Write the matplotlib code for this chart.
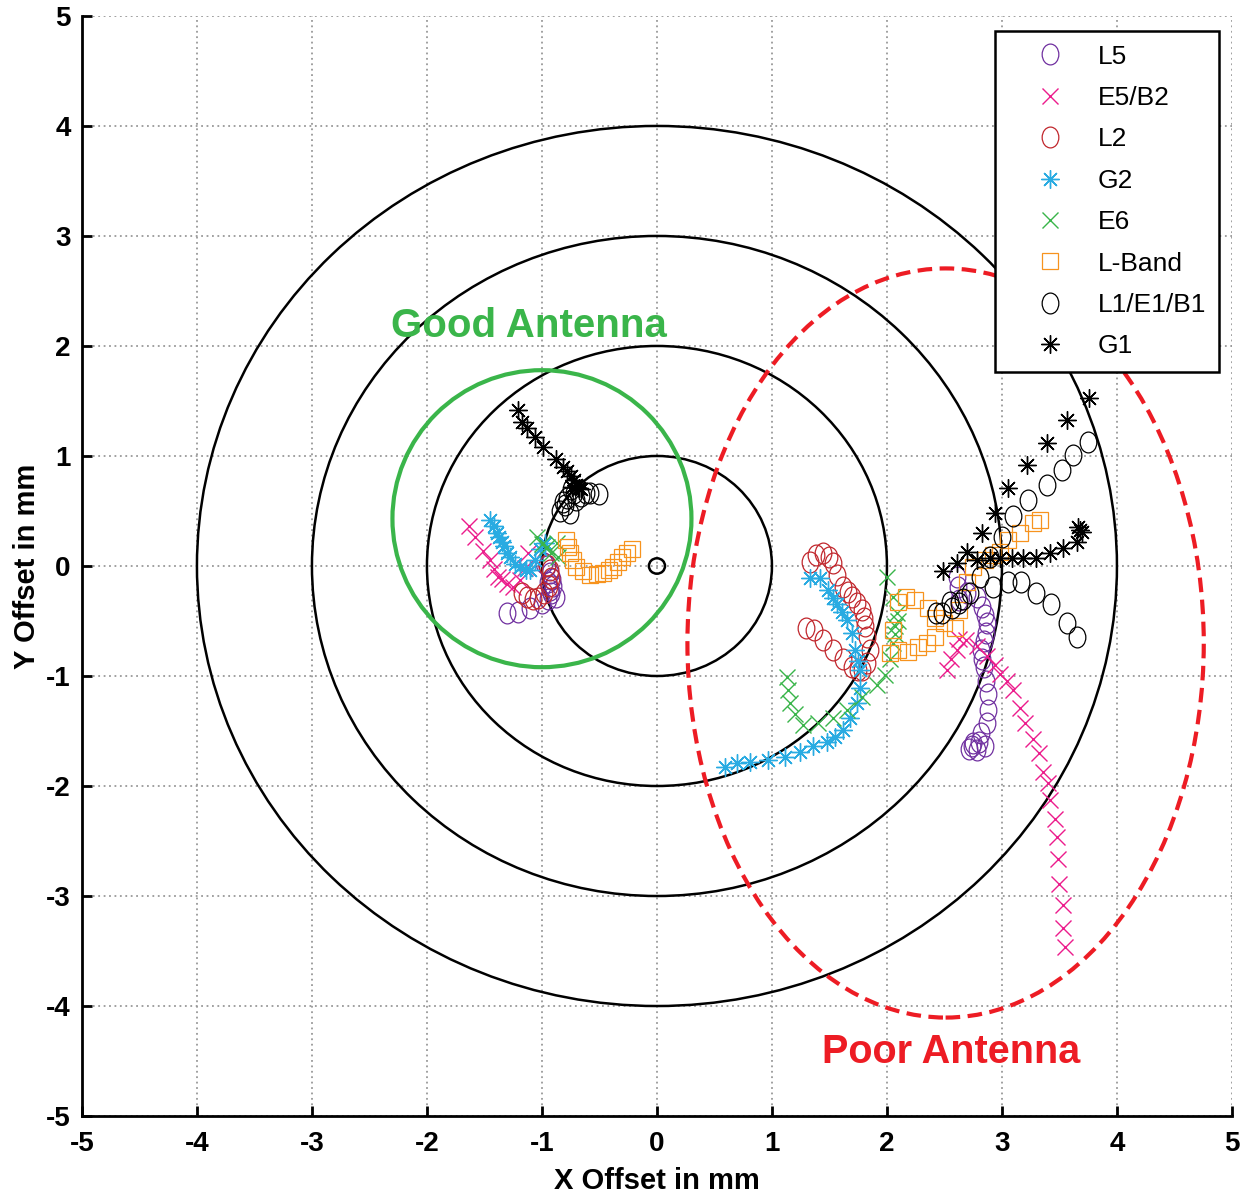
import numpy as np
import matplotlib
matplotlib.use('Agg')
import matplotlib.pyplot as plt
from matplotlib.patches import Circle, Ellipse
from matplotlib.path import Path

plt.rcParams['axes.unicode_minus'] = False

# Dados (offset do centro de fase, mm)
L5_x = [-1.30, -1.21, -1.10, -1.00, -0.95, -0.92, -0.90, -0.91, -0.93, -0.96, -0.98, -0.93, -0.88, -0.95,
        2.61, 2.62, 2.63, 2.70, 2.78, 2.83, 2.85, 2.87, 2.86, 2.84, 2.82, 2.83, 2.84, 2.86, 2.88, 2.88,
        2.87, 2.82, 2.75, 2.71, 2.78, 2.85, 2.74, 2.80]
L5_y = [-0.43, -0.42, -0.38, -0.34, -0.30, -0.25, -0.18, -0.12, -0.06, 0.00, 0.03, -0.22, -0.28, -0.15,
        -0.10, -0.19, -0.31, -0.25, -0.28, -0.37, -0.45, -0.52, -0.61, -0.68, -0.76, -0.85, -0.92, -1.05,
        -1.16, -1.31, -1.43, -1.52, -1.61, -1.66, -1.67, -1.64, -1.64, -1.60]

E5B2_x = [-1.63, -1.58, -1.51, -1.45, -1.42, -1.38, -1.30, -1.25, -1.19, -1.15, -1.12, -1.35,
          2.52, 2.56, 2.61, 2.63, 2.69, 2.78, 2.87, 2.94, 2.98, 3.04, 3.10, 3.16, 3.20, 3.27, 3.32,
          3.36, 3.40, 3.42, 3.46, 3.48, 3.49, 3.50, 3.53, 3.53, 3.55]
E5B2_y = [0.36, 0.26, 0.14, 0.05, -0.03, -0.10, -0.16, -0.19, -0.13, -0.02, 0.12, -0.12,
          -0.95, -0.85, -0.76, -0.66, -0.67, -0.73, -0.82, -0.90, -0.98, -1.05, -1.13, -1.29, -1.43,
          -1.57, -1.70, -1.87, -1.97, -2.13, -2.30, -2.46, -2.66, -2.89, -3.08, -3.29, -3.46]

L2_x = [-1.17, -1.13, -1.08, -1.03, -0.98, -0.94, -0.92, -0.93, -0.96,
        1.33, 1.38, 1.44, 1.50, 1.53, 1.57, 1.62, 1.66, 1.70, 1.74, 1.78, 1.80, 1.81, 1.83, 1.85, 1.83,
        1.78, 1.30, 1.37, 1.44, 1.53, 1.62, 1.70, 1.75]
L2_y = [-0.25, -0.28, -0.30, -0.29, -0.25, -0.18, -0.11, -0.04, 0.01,
        0.04, 0.10, 0.12, 0.08, 0.03, -0.08, -0.19, -0.24, -0.28, -0.34, -0.40, -0.47, -0.55, -0.65,
        -0.76, -0.88, -0.95, -0.56, -0.58, -0.67, -0.76, -0.85, -0.92, -0.95]

G2_x = [-1.45, -1.42, -1.39, -1.37, -1.33, -1.28, -1.23, -1.19, -1.14, -1.10, -1.06, -1.02, -0.97, -1.35, -1.30,
        1.33, 1.42, 1.49, 1.53, 1.57, 1.61, 1.65, 1.70, 1.72, 1.75, 1.77, 1.77, 1.74, 1.68, 1.62, 1.55,
        1.48, 1.36, 1.24, 1.11, 0.97, 0.81, 0.70, 0.59]
G2_y = [0.42, 0.36, 0.30, 0.26, 0.18, 0.08, 0.02, -0.01, -0.04, -0.04, 0.05, 0.15, 0.21, 0.22, 0.12,
        -0.11, -0.11, -0.22, -0.29, -0.35, -0.42, -0.49, -0.61, -0.76, -0.86, -0.95, -1.11, -1.25, -1.38,
        -1.49, -1.55, -1.60, -1.64, -1.69, -1.74, -1.76, -1.78, -1.79, -1.83]

E6_x = [-1.04, -0.96, -0.87, -0.86, -0.92, -1.00,
        1.13, 1.14, 1.16, 1.20, 1.27, 1.40, 1.53, 1.65, 1.78, 1.91, 1.98, 2.03, 2.05, 2.07, 2.09, 2.05,
        2.00, 2.07, 2.10]
E6_y = [0.26, 0.17, 0.21, 0.08, 0.12, 0.20,
        -1.01, -1.13, -1.25, -1.35, -1.45, -1.43, -1.38, -1.31, -1.19, -1.08, -0.99, -0.85, -0.70, -0.55,
        -0.43, -0.28, -0.10, -0.62, -0.50]

LBand_x = [-0.79, -0.77, -0.76, -0.73, -0.70, -0.64, -0.58, -0.52, -0.47, -0.42, -0.38, -0.34, -0.30, -0.26, -0.22,
           2.17, 2.24, 2.36, 2.42, 2.10, 2.05, 2.03, 2.10, 2.18, 2.27, 2.35, 2.42, 2.50, 2.59, 2.63, 2.70,
           2.75, 2.85, 2.92, 2.98, 3.05, 3.16, 3.27, 3.33]
LBand_y = [0.24, 0.17, 0.12, 0.05, -0.01, -0.05, -0.08, -0.07, -0.06, -0.04, -0.01, 0.04, 0.08, 0.12, 0.15,
           -0.28, -0.31, -0.38, -0.47, -0.33, -0.58, -0.79, -0.76, -0.78, -0.74, -0.70, -0.65, -0.52, -0.56,
           -0.40, -0.15, -0.01, 0.05, 0.10, 0.13, 0.24, 0.30, 0.39, 0.42]

L1_x = [-0.84, -0.80, -0.76, -0.82, -0.78, -0.72, -0.70, -0.66, -0.62, -0.58, -0.50, -0.75,
        3.75, 3.62, 3.52, 3.39, 3.23, 3.10, 3.00, 2.90, 2.81, 2.72, 2.63, 2.57, 2.48, 2.43,
        2.92, 3.05, 3.17, 3.30, 3.43, 3.57, 3.65, 2.55, 2.66]
L1_y = [0.50, 0.55, 0.48, 0.58, 0.62, 0.66, 0.60, 0.64, 0.66, 0.66, 0.65, 0.70,
        1.13, 1.01, 0.87, 0.74, 0.60, 0.45, 0.26, 0.08, -0.10, -0.25, -0.34, -0.38, -0.43, -0.43,
        -0.19, -0.15, -0.15, -0.25, -0.35, -0.52, -0.65, -0.33, -0.30]

G1_x = [-1.21, -1.17, -1.13, -1.06, -0.99, -0.88, -0.82, -0.78, -0.75, -0.72, -0.70, -0.68, -0.66, -0.74,
        3.76, 3.57, 3.39, 3.22, 3.05, 2.94, 2.83, 2.70, 2.61, 2.49,
        2.78, 2.90, 2.98, 3.09, 3.18, 3.30, 3.42, 3.53, 3.65, 3.68, 3.66, 3.70]
G1_y = [1.42, 1.31, 1.25, 1.17, 1.08, 0.97, 0.90, 0.86, 0.82, 0.78, 0.74, 0.71, 0.70, 0.72,
        1.53, 1.33, 1.12, 0.92, 0.71, 0.48, 0.30, 0.13, 0.03, -0.05,
        0.05, 0.07, 0.07, 0.07, 0.07, 0.07, 0.12, 0.16, 0.22, 0.33, 0.35, 0.31]

raios = [1, 2, 3, 4]

# marcador "o" um pouco alongado como no original
circ = Path.unit_circle()
oval = Path(circ.vertices * np.array([0.8, 1.0]), circ.codes)
aster = (8, 2, 0)
fonte = ['Liberation Sans', 'DejaVu Sans']

fig = plt.figure(figsize=(12.53, 11.99), dpi=100)
ax = fig.add_axes([0.0654, 0.0692, 0.9178, 0.9175])

for r in raios:
    ax.add_patch(Circle((0, 0), r, fill=False, ec='black', lw=1.8, zorder=2))
ax.add_patch(Circle((0, 0), 0.07, fill=False, ec='black', lw=1.8, zorder=2))

ax.add_patch(Ellipse((-1.0, 0.43), 2.6, 2.7, fill=False, ec='#3AB54A', lw=3.0, zorder=2))
ax.add_patch(Ellipse((2.51, -0.70), 4.49, 6.81, fill=False, ec='#ED1C24', lw=3.0,
                     ls=(0, (3.5, 1.8)), zorder=2))

ax.plot(L5_x, L5_y, ls='none', marker=oval, ms=15, mfc='none', mec='#7030A0', mew=0.9, label='L5', zorder=3)
ax.plot(E5B2_x, E5B2_y, ls='none', marker='x', ms=11, mec='#EC1C8C', mew=1.0, label='E5/B2', zorder=3)
ax.plot(L2_x, L2_y, ls='none', marker=oval, ms=15, mfc='none', mec='#C1272D', mew=0.9, label='L2', zorder=3)
ax.plot(G2_x, G2_y, ls='none', marker=aster, ms=13, mec='#29ABE2', mew=1.0, label='G2', zorder=3)
ax.plot(E6_x, E6_y, ls='none', marker='x', ms=11, mec='#39B54A', mew=1.0, label='E6', zorder=3)
ax.plot(LBand_x, LBand_y, ls='none', marker='s', ms=11, mfc='none', mec='#F7931E', mew=0.9, label='L-Band', zorder=3)
ax.plot(L1_x, L1_y, ls='none', marker=oval, ms=15, mfc='none', mec='black', mew=0.9, label='L1/E1/B1', zorder=3)
ax.plot(G1_x, G1_y, ls='none', marker=aster, ms=13, mec='black', mew=1.0, label='G1', zorder=3)

ax.text(-1.11, 2.18, 'Good Antenna', color='#3AB54A', fontsize=29, fontweight='bold',
        family=fonte, ha='center', va='center', zorder=4)
ax.text(2.56, -4.42, 'Poor Antenna', color='#ED1C24', fontsize=28.5, fontweight='bold',
        family=fonte, ha='center', va='center', zorder=4)

ax.set_xlim(-5, 5)
ax.set_ylim(-5, 5)
ax.set_xticks(np.arange(-5, 6))
ax.set_yticks(np.arange(-5, 6))
ax.grid(True, ls=(0, (1, 2)), color='#999999', lw=1.3)
ax.set_axisbelow(True)
for s in ['top', 'right']:
    ax.spines[s].set_visible(False)
for s in ['left', 'bottom']:
    ax.spines[s].set_linewidth(2.0)
ax.tick_params(direction='in', length=7, width=2.0)
ax.tick_params(axis='x', pad=11)
ax.tick_params(axis='y', pad=8)
for lab in ax.get_xticklabels() + ax.get_yticklabels():
    lab.set_fontsize(20)
    lab.set_fontweight('bold')
    lab.set_family(fonte)

ax.set_xlabel('X Offset in mm', fontsize=21, fontweight='bold', family=fonte, labelpad=7)
ax.set_ylabel('Y Offset in mm', fontsize=21, fontweight='bold', family=fonte, labelpad=4)

leg = ax.legend(loc='upper right', bbox_to_anchor=(0.989, 0.986), borderaxespad=0, fancybox=False,
                framealpha=1, edgecolor='black', labelspacing=0.66, handletextpad=0.2,
                borderpad=0.5, handlelength=3.2,
                prop={'family': ['Liberation Sans Narrow', 'Liberation Sans'], 'size': 19})
leg.get_frame().set_linewidth(1.8)
leg.set_zorder(5)

fig.savefig('out.png', dpi=100)
